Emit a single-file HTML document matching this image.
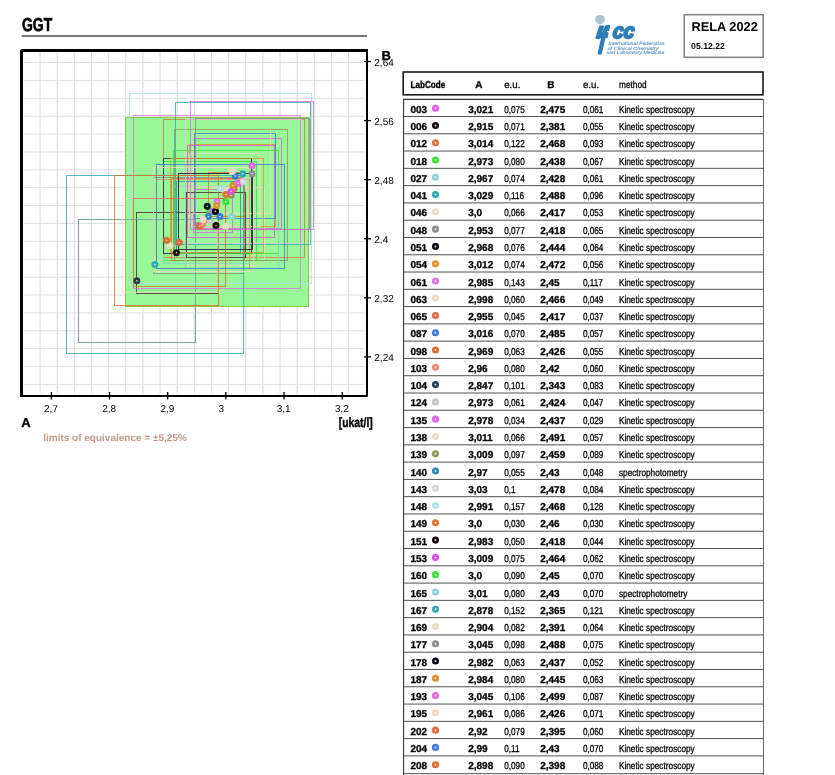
<!DOCTYPE html><html><head><meta charset="utf-8"><title>GGT RELA 2022</title><style>html,body{margin:0;padding:0;background:#fff;width:835px;height:775px;overflow:hidden}svg{display:block;will-change:transform}text{font-family:'Liberation Sans', Arial, Helvetica, sans-serif;text-rendering:geometricPrecision}.tb{font-weight:bold;stroke:#000;stroke-width:.3px}.tn{stroke:#000;stroke-width:.3px}</style></head><body>
<svg width="835" height="775" viewBox="0 0 835 775">
<rect width="835" height="775" fill="#fff"/>
<text class="tb" style="stroke-width:.6px" x="22" y="31" font-size="18.8" textLength="30.2" lengthAdjust="spacingAndGlyphs" fill="#000">GGT</text>
<rect x="21.5" y="35" width="345.5" height="2" fill="#7a7a7a"/>
<defs><clipPath id="pc"><rect x="23" y="52" width="343" height="343"/></clipPath></defs>
<g clip-path="url(#pc)"><rect x="39.56" y="52" width="1" height="341.5" fill="#dadada"/><rect x="56.70" y="52" width="1" height="341.5" fill="#dadada"/><rect x="73.84" y="52" width="1" height="341.5" fill="#dadada"/><rect x="90.98" y="52" width="1" height="341.5" fill="#dadada"/><rect x="108.12" y="52" width="1" height="341.5" fill="#dadada"/><rect x="125.26" y="52" width="1" height="341.5" fill="#dadada"/><rect x="142.40" y="52" width="1" height="341.5" fill="#dadada"/><rect x="159.54" y="52" width="1" height="341.5" fill="#dadada"/><rect x="176.68" y="52" width="1" height="341.5" fill="#dadada"/><rect x="193.82" y="52" width="1" height="341.5" fill="#dadada"/><rect x="210.96" y="52" width="1" height="341.5" fill="#dadada"/><rect x="228.10" y="52" width="1" height="341.5" fill="#dadada"/><rect x="245.24" y="52" width="1" height="341.5" fill="#dadada"/><rect x="262.38" y="52" width="1" height="341.5" fill="#dadada"/><rect x="279.52" y="52" width="1" height="341.5" fill="#dadada"/><rect x="296.66" y="52" width="1" height="341.5" fill="#dadada"/><rect x="313.80" y="52" width="1" height="341.5" fill="#dadada"/><rect x="330.94" y="52" width="1" height="341.5" fill="#dadada"/><rect x="348.08" y="52" width="1" height="341.5" fill="#dadada"/><rect x="24" y="62.00" width="340.8" height="1" fill="#dedede"/><rect x="24" y="79.89" width="340.8" height="1" fill="#dedede"/><rect x="24" y="97.77" width="340.8" height="1" fill="#dedede"/><rect x="24" y="115.66" width="340.8" height="1" fill="#dedede"/><rect x="24" y="133.54" width="340.8" height="1" fill="#dedede"/><rect x="24" y="151.43" width="340.8" height="1" fill="#dedede"/><rect x="24" y="169.31" width="340.8" height="1" fill="#dedede"/><rect x="24" y="187.19" width="340.8" height="1" fill="#dedede"/><rect x="24" y="205.08" width="340.8" height="1" fill="#dedede"/><rect x="24" y="222.97" width="340.8" height="1" fill="#dedede"/><rect x="24" y="240.85" width="340.8" height="1" fill="#dedede"/><rect x="24" y="258.74" width="340.8" height="1" fill="#dedede"/><rect x="24" y="276.62" width="340.8" height="1" fill="#dedede"/><rect x="24" y="294.50" width="340.8" height="1" fill="#dedede"/><rect x="24" y="312.39" width="340.8" height="1" fill="#dedede"/><rect x="24" y="330.28" width="340.8" height="1" fill="#dedede"/><rect x="24" y="348.16" width="340.8" height="1" fill="#dedede"/><rect x="24" y="366.05" width="340.8" height="1" fill="#dedede"/><rect x="24" y="383.93" width="340.8" height="1" fill="#dedede"/><rect x="125" y="117" width="184" height="190" fill="#8dc63f"/><rect x="126" y="118" width="182" height="188" fill="#98f898"/><rect x="194.5" y="138.5" width="87" height="90" fill="none" stroke="#e05ce0" stroke-opacity="0.80" stroke-width="1"/><rect x="136.5" y="212.5" width="81" height="81" fill="none" stroke="#5a4a40" stroke-opacity="1.00" stroke-width="1"/><rect x="163.5" y="119.5" width="141" height="138" fill="none" stroke="#e07040" stroke-opacity="0.80" stroke-width="1"/><rect x="163.5" y="161.5" width="93" height="99" fill="none" stroke="#38e038" stroke-opacity="0.80" stroke-width="1"/><rect x="163.5" y="173.5" width="86" height="90" fill="none" stroke="#8cd2d2" stroke-opacity="0.80" stroke-width="1"/><rect x="175.5" y="102.5" width="135" height="142" fill="none" stroke="#30a8b0" stroke-opacity="0.80" stroke-width="1"/><rect x="187.5" y="187.5" width="77" height="78" fill="none" stroke="#e8dcc0" stroke-opacity="0.80" stroke-width="1"/><rect x="153.5" y="177.5" width="90" height="96" fill="none" stroke="#8a8a8a" stroke-opacity="0.80" stroke-width="1"/><rect x="163.5" y="158.5" width="88" height="95" fill="none" stroke="#3a4258" stroke-opacity="1.00" stroke-width="1"/><rect x="189.5" y="144.5" width="86" height="82" fill="none" stroke="#e0902a" stroke-opacity="0.80" stroke-width="1"/><rect x="133.5" y="115.5" width="167" height="173" fill="none" stroke="#e070e8" stroke-opacity="0.80" stroke-width="1"/><rect x="189.5" y="153.5" width="70" height="73" fill="none" stroke="#f5d5c5" stroke-opacity="0.80" stroke-width="1"/><rect x="173.5" y="198.5" width="52" height="55" fill="none" stroke="#e06840" stroke-opacity="0.80" stroke-width="1"/><rect x="194.5" y="133.5" width="81" height="85" fill="none" stroke="#3a7ad8" stroke-opacity="0.80" stroke-width="1"/><rect x="171.5" y="178.5" width="73" height="82" fill="none" stroke="#e06a28" stroke-opacity="0.80" stroke-width="1"/><rect x="156.5" y="179.5" width="93" height="89" fill="none" stroke="#ee8870" stroke-opacity="0.80" stroke-width="1"/><rect x="78.5" y="219.5" width="117" height="123" fill="none" stroke="#78aa94" stroke-opacity="1.00" stroke-width="1"/><rect x="174.5" y="186.5" width="71" height="69" fill="none" stroke="#c4c4c4" stroke-opacity="0.80" stroke-width="1"/><rect x="193.5" y="189.5" width="39" height="43" fill="none" stroke="#e060e8" stroke-opacity="0.80" stroke-width="1"/><rect x="193.5" y="129.5" width="77" height="84" fill="none" stroke="#e8dcc0" stroke-opacity="0.80" stroke-width="1"/><rect x="174.5" y="129.5" width="113" height="131" fill="none" stroke="#889955" stroke-opacity="0.80" stroke-width="1"/><rect x="176.5" y="181.5" width="64" height="71" fill="none" stroke="#2a88b8" stroke-opacity="0.80" stroke-width="1"/><rect x="185.5" y="119.5" width="116" height="124" fill="none" stroke="#ddd0dd" stroke-opacity="0.80" stroke-width="1"/><rect x="129.5" y="93.5" width="182" height="190" fill="none" stroke="#b0e0e8" stroke-opacity="0.80" stroke-width="1"/><rect x="208.5" y="172.5" width="35" height="44" fill="none" stroke="#e07030" stroke-opacity="0.80" stroke-width="1"/><rect x="186.5" y="192.5" width="59" height="65" fill="none" stroke="#5a4c40" stroke-opacity="1.00" stroke-width="1"/><rect x="187.5" y="145.5" width="87" height="92" fill="none" stroke="#d850e0" stroke-opacity="0.80" stroke-width="1"/><rect x="173.5" y="150.5" width="105" height="103" fill="none" stroke="#38e038" stroke-opacity="0.80" stroke-width="1"/><rect x="185.5" y="164.5" width="93" height="104" fill="none" stroke="#8cd2d2" stroke-opacity="0.80" stroke-width="1"/><rect x="66.5" y="175.5" width="177" height="178" fill="none" stroke="#30a8b0" stroke-opacity="0.80" stroke-width="1"/><rect x="122.5" y="198.5" width="95" height="94" fill="none" stroke="#e8dcc0" stroke-opacity="0.80" stroke-width="1"/><rect x="195.5" y="118.5" width="114" height="111" fill="none" stroke="#8a8a8a" stroke-opacity="0.80" stroke-width="1"/><rect x="178.5" y="173.5" width="74" height="76" fill="none" stroke="#303444" stroke-opacity="1.00" stroke-width="1"/><rect x="170.5" y="158.5" width="93" height="94" fill="none" stroke="#e0902a" stroke-opacity="0.80" stroke-width="1"/><rect x="190.5" y="101.5" width="123" height="128" fill="none" stroke="#e066e0" stroke-opacity="0.80" stroke-width="1"/><rect x="153.5" y="167.5" width="100" height="104" fill="none" stroke="#f5d5c5" stroke-opacity="0.80" stroke-width="1"/><rect x="133.5" y="198.5" width="92" height="88" fill="none" stroke="#e06840" stroke-opacity="0.80" stroke-width="1"/><rect x="156.5" y="164.5" width="128" height="104" fill="none" stroke="#3a7ad8" stroke-opacity="0.80" stroke-width="1"/><rect x="114.5" y="175.5" width="104" height="130" fill="none" stroke="#e06a28" stroke-opacity="0.80" stroke-width="1"/><circle cx="238.08" cy="183.35" r="3.5" fill="#e05ce0"/><circle cx="238.08" cy="183.35" r="0.8" fill="#fff" fill-opacity="0.85"/><circle cx="176.42" cy="252.77" r="3.5" fill="#1a0c0c"/><circle cx="176.42" cy="252.77" r="0.8" fill="#fff" fill-opacity="0.85"/><circle cx="234.00" cy="188.52" r="3.5" fill="#e07040"/><circle cx="234.00" cy="188.52" r="0.8" fill="#fff" fill-opacity="0.85"/><circle cx="210.15" cy="210.68" r="3.5" fill="#38e038"/><circle cx="210.15" cy="210.68" r="0.8" fill="#fff" fill-opacity="0.85"/><circle cx="206.66" cy="218.06" r="3.5" fill="#8cd2d2"/><circle cx="206.66" cy="218.06" r="0.8" fill="#fff" fill-opacity="0.85"/><circle cx="242.73" cy="173.75" r="3.5" fill="#30a8b0"/><circle cx="242.73" cy="173.75" r="0.8" fill="#fff" fill-opacity="0.85"/><circle cx="225.86" cy="226.19" r="3.5" fill="#e8dcc0"/><circle cx="225.86" cy="226.19" r="0.8" fill="#fff" fill-opacity="0.85"/><circle cx="198.52" cy="225.45" r="3.5" fill="#8a8a8a"/><circle cx="198.52" cy="225.45" r="0.8" fill="#fff" fill-opacity="0.85"/><circle cx="207.25" cy="206.25" r="3.5" fill="#0c0c18"/><circle cx="207.25" cy="206.25" r="0.8" fill="#fff" fill-opacity="0.85"/><circle cx="232.84" cy="185.57" r="3.5" fill="#e0902a"/><circle cx="232.84" cy="185.57" r="0.8" fill="#fff" fill-opacity="0.85"/><circle cx="217.13" cy="201.81" r="3.5" fill="#e070e8"/><circle cx="217.13" cy="201.81" r="0.8" fill="#fff" fill-opacity="0.85"/><circle cx="224.70" cy="190.00" r="3.5" fill="#f5d5c5"/><circle cx="224.70" cy="190.00" r="0.8" fill="#fff" fill-opacity="0.85"/><circle cx="199.68" cy="226.19" r="3.5" fill="#e06840"/><circle cx="199.68" cy="226.19" r="0.8" fill="#fff" fill-opacity="0.85"/><circle cx="235.17" cy="175.97" r="3.5" fill="#3a7ad8"/><circle cx="235.17" cy="175.97" r="0.8" fill="#fff" fill-opacity="0.85"/><circle cx="207.83" cy="219.54" r="3.5" fill="#e06a28"/><circle cx="207.83" cy="219.54" r="0.8" fill="#fff" fill-opacity="0.85"/><circle cx="202.59" cy="223.97" r="3.5" fill="#ee8870"/><circle cx="202.59" cy="223.97" r="0.8" fill="#fff" fill-opacity="0.85"/><circle cx="136.86" cy="280.83" r="3.5" fill="#2a3a48"/><circle cx="136.86" cy="280.83" r="0.8" fill="#fff" fill-opacity="0.85"/><circle cx="210.15" cy="221.02" r="3.5" fill="#c4c4c4"/><circle cx="210.15" cy="221.02" r="0.8" fill="#fff" fill-opacity="0.85"/><circle cx="213.06" cy="211.42" r="3.5" fill="#e060e8"/><circle cx="213.06" cy="211.42" r="0.8" fill="#fff" fill-opacity="0.85"/><circle cx="232.26" cy="171.54" r="3.5" fill="#e8dcc0"/><circle cx="232.26" cy="171.54" r="0.8" fill="#fff" fill-opacity="0.85"/><circle cx="231.10" cy="195.17" r="3.5" fill="#889955"/><circle cx="231.10" cy="195.17" r="0.8" fill="#fff" fill-opacity="0.85"/><circle cx="208.41" cy="216.58" r="3.5" fill="#2a88b8"/><circle cx="208.41" cy="216.58" r="0.8" fill="#fff" fill-opacity="0.85"/><circle cx="243.31" cy="181.14" r="3.5" fill="#ddd0dd"/><circle cx="243.31" cy="181.14" r="0.8" fill="#fff" fill-opacity="0.85"/><circle cx="220.62" cy="188.52" r="3.5" fill="#b0e0e8"/><circle cx="220.62" cy="188.52" r="0.8" fill="#fff" fill-opacity="0.85"/><circle cx="225.86" cy="194.43" r="3.5" fill="#e07030"/><circle cx="225.86" cy="194.43" r="0.8" fill="#fff" fill-opacity="0.85"/><circle cx="215.97" cy="225.45" r="3.5" fill="#140808"/><circle cx="215.97" cy="225.45" r="0.8" fill="#fff" fill-opacity="0.85"/><circle cx="231.10" cy="191.48" r="3.5" fill="#d850e0"/><circle cx="231.10" cy="191.48" r="0.8" fill="#fff" fill-opacity="0.85"/><circle cx="225.86" cy="201.81" r="3.5" fill="#38e038"/><circle cx="225.86" cy="201.81" r="0.8" fill="#fff" fill-opacity="0.85"/><circle cx="231.68" cy="216.58" r="3.5" fill="#8cd2d2"/><circle cx="231.68" cy="216.58" r="0.8" fill="#fff" fill-opacity="0.85"/><circle cx="154.89" cy="264.59" r="3.5" fill="#30a8b0"/><circle cx="154.89" cy="264.59" r="0.8" fill="#fff" fill-opacity="0.85"/><circle cx="170.02" cy="245.39" r="3.5" fill="#e8dcc0"/><circle cx="170.02" cy="245.39" r="0.8" fill="#fff" fill-opacity="0.85"/><circle cx="252.04" cy="173.75" r="3.5" fill="#8a8a8a"/><circle cx="252.04" cy="173.75" r="0.8" fill="#fff" fill-opacity="0.85"/><circle cx="215.39" cy="211.42" r="3.5" fill="#00000c"/><circle cx="215.39" cy="211.42" r="0.8" fill="#fff" fill-opacity="0.85"/><circle cx="216.55" cy="205.51" r="3.5" fill="#e0902a"/><circle cx="216.55" cy="205.51" r="0.8" fill="#fff" fill-opacity="0.85"/><circle cx="252.04" cy="165.63" r="3.5" fill="#e066e0"/><circle cx="252.04" cy="165.63" r="0.8" fill="#fff" fill-opacity="0.85"/><circle cx="203.17" cy="219.54" r="3.5" fill="#f5d5c5"/><circle cx="203.17" cy="219.54" r="0.8" fill="#fff" fill-opacity="0.85"/><circle cx="179.32" cy="242.43" r="3.5" fill="#e06840"/><circle cx="179.32" cy="242.43" r="0.8" fill="#fff" fill-opacity="0.85"/><circle cx="220.04" cy="216.58" r="3.5" fill="#3a7ad8"/><circle cx="220.04" cy="216.58" r="0.8" fill="#fff" fill-opacity="0.85"/><circle cx="166.53" cy="240.22" r="3.5" fill="#e06a28"/><circle cx="166.53" cy="240.22" r="0.8" fill="#fff" fill-opacity="0.85"/></g>
<path d="M20 397 V51.2 Q20 49 22.2 49 H368 V52 H23 V397 Z" fill="#000"/>
<path d="M366 52 H368 V395.8 Q368 397 366.8 397 H20 V395 H366 Z" fill="#000"/>
<line x1="51.35" y1="392" x2="51.35" y2="399.5" stroke="#000" stroke-width="1.3"/>
<text x="44.05" y="412" font-size="10" fill="#000">2,7</text>
<line x1="109.52" y1="392" x2="109.52" y2="399.5" stroke="#000" stroke-width="1.3"/>
<text x="102.22" y="412" font-size="10" fill="#000">2,8</text>
<line x1="167.69" y1="392" x2="167.69" y2="399.5" stroke="#000" stroke-width="1.3"/>
<text x="160.39" y="412" font-size="10" fill="#000">2,9</text>
<line x1="225.86" y1="392" x2="225.86" y2="399.5" stroke="#000" stroke-width="1.3"/>
<text x="218.56" y="412" font-size="10" fill="#000">3</text>
<line x1="284.03" y1="392" x2="284.03" y2="399.5" stroke="#000" stroke-width="1.3"/>
<text x="276.73" y="412" font-size="10" fill="#000">3,1</text>
<line x1="342.20" y1="392" x2="342.20" y2="399.5" stroke="#000" stroke-width="1.3"/>
<text x="334.90" y="412" font-size="10" fill="#000">3,2</text>
<line x1="364" y1="61.50" x2="371" y2="61.50" stroke="#000" stroke-width="1.3"/>
<text x="374.3" y="65.50" font-size="10" fill="#000">2,64</text>
<line x1="364" y1="120.58" x2="371" y2="120.58" stroke="#000" stroke-width="1.3"/>
<text x="374.3" y="124.58" font-size="10" fill="#000">2,56</text>
<line x1="364" y1="179.66" x2="371" y2="179.66" stroke="#000" stroke-width="1.3"/>
<text x="374.3" y="183.66" font-size="10" fill="#000">2,48</text>
<line x1="364" y1="238.74" x2="371" y2="238.74" stroke="#000" stroke-width="1.3"/>
<text x="374.3" y="242.74" font-size="10" fill="#000">2,4</text>
<line x1="364" y1="297.82" x2="371" y2="297.82" stroke="#000" stroke-width="1.3"/>
<text x="374.3" y="301.82" font-size="10" fill="#000">2,32</text>
<line x1="364" y1="356.90" x2="371" y2="356.90" stroke="#000" stroke-width="1.3"/>
<text x="374.3" y="360.90" font-size="10" fill="#000">2,24</text>
<text class="tb" style="stroke-width:.35px" x="381.6" y="60.4" font-size="13">B</text>
<text class="tb" style="stroke-width:.35px" x="21.2" y="427.1" font-size="13">A</text>
<text class="tb" style="stroke-width:.4px" x="338.8" y="426.8" font-size="13.5" textLength="34" lengthAdjust="spacingAndGlyphs" fill="#000">[ukat/l]</text>
<text x="43.2" y="440.7" font-size="10" font-weight="bold" fill="#c39a8b">limits of equivalence = ±5,25%</text>
<circle cx="600" cy="19.7" r="4.8" fill="#a9c3d3"/>
<g font-weight="bold" font-style="italic" fill="#2f7db6" stroke="#2f7db6" stroke-linejoin="round" transform="translate(612 40) skewX(-7) translate(-612 -40)"><text x="595.8" y="37.7" font-size="22" stroke-width="2">ı</text><text transform="translate(0,-45.56) scale(1,1.85)" font-size="20" stroke-width="1.6" x="599.4" y="53.1">f</text><text font-size="21" stroke-width="2" x="612" y="38.3" textLength="21.5" lengthAdjust="spacingAndGlyphs">cc</text></g>
<g font-style="italic" fill="#5b8fc4" stroke="#5b8fc4" stroke-width="0.12" font-size="4.6"><text x="608.5" y="45.2" textLength="56" lengthAdjust="spacingAndGlyphs">International Federation</text><text x="607.5" y="49.5" textLength="51" lengthAdjust="spacingAndGlyphs">of Clinical Chemistry</text><text x="606.5" y="53.8" textLength="58" lengthAdjust="spacingAndGlyphs">and Laboratory Medicine</text></g>
<rect x="684.3" y="14.7" width="78.9" height="42.6" fill="none" stroke="#808080" stroke-width="1.5"/>
<text x="691.4" y="31" font-size="12.8" font-weight="bold" fill="#000">RELA 2022</text>
<text x="691.1" y="49" font-size="8.7" font-weight="bold" fill="#000">05.12.22</text>
<rect x="403.2" y="72" width="359.8" height="22.8" fill="none" stroke="#1a1a1a" stroke-width="1.6"/>
<text class="tb" x="410.6" y="87.9" font-size="10" style="stroke-width:.35px" textLength="34.6" lengthAdjust="spacingAndGlyphs">LabCode</text>
<text class="tb" x="475.2" y="88" font-size="10">A</text>
<text class="tn" x="504.2" y="87.9" font-size="10" textLength="16.2" lengthAdjust="spacingAndGlyphs">e.u.</text>
<text class="tb" x="547.2" y="88" font-size="10">B</text>
<text class="tn" x="582.9" y="87.9" font-size="10" textLength="16.2" lengthAdjust="spacingAndGlyphs">e.u.</text>
<text class="tn" x="619.1" y="87.9" font-size="10" textLength="27.5" lengthAdjust="spacingAndGlyphs">method</text>
<line x1="403.1" y1="99.45" x2="763.6" y2="99.45" stroke="#333" stroke-width="1.2"/>
<line x1="403.6" y1="99.50" x2="403.6" y2="775" stroke="#333" stroke-width="1.1"/>
<line x1="763.5" y1="99" x2="763.5" y2="775" stroke="#6a6a6a" stroke-width="1"/>
<text class="tb" x="410.5" y="112.80" font-size="10">003</text>
<circle cx="435.5" cy="108.20" r="3.55" fill="#e05ce0"/><circle cx="435.5" cy="108.20" r="1.0" fill="#fff" fill-opacity="0.85"/>
<text class="tb" x="468.2" y="112.80" font-size="10">3,021</text>
<text class="tn" x="504.2" y="112.80" font-size="10" transform="translate(504.2 0) scale(0.820 1) translate(-504.2 0)">0,075</text>
<text class="tb" x="540.2" y="112.80" font-size="10">2,475</text>
<text class="tn" x="582.9" y="112.80" font-size="10" transform="translate(582.9 0) scale(0.820 1) translate(-582.9 0)">0,061</text>
<text class="tn" x="618.9" y="112.80" font-size="10" transform="translate(618.9 0) scale(0.827 1) translate(-618.9 0)">Kinetic spectroscopy</text>
<line x1="403.5" y1="116.50" x2="763.5" y2="116.50" stroke="#505050" stroke-width="1"/>
<text class="tb" x="410.5" y="130.08" font-size="10">006</text>
<circle cx="435.5" cy="125.48" r="3.55" fill="#1a0c0c"/><circle cx="435.5" cy="125.48" r="1.0" fill="#fff" fill-opacity="0.85"/>
<text class="tb" x="468.2" y="130.08" font-size="10">2,915</text>
<text class="tn" x="504.2" y="130.08" font-size="10" transform="translate(504.2 0) scale(0.820 1) translate(-504.2 0)">0,071</text>
<text class="tb" x="540.2" y="130.08" font-size="10">2,381</text>
<text class="tn" x="582.9" y="130.08" font-size="10" transform="translate(582.9 0) scale(0.820 1) translate(-582.9 0)">0,055</text>
<text class="tn" x="618.9" y="130.08" font-size="10" transform="translate(618.9 0) scale(0.827 1) translate(-618.9 0)">Kinetic spectroscopy</text>
<line x1="403.5" y1="133.78" x2="763.5" y2="133.78" stroke="#505050" stroke-width="1"/>
<text class="tb" x="410.5" y="147.35" font-size="10">012</text>
<circle cx="435.5" cy="142.75" r="3.55" fill="#e07040"/><circle cx="435.5" cy="142.75" r="1.0" fill="#fff" fill-opacity="0.85"/>
<text class="tb" x="468.2" y="147.35" font-size="10">3,014</text>
<text class="tn" x="504.2" y="147.35" font-size="10" transform="translate(504.2 0) scale(0.820 1) translate(-504.2 0)">0,122</text>
<text class="tb" x="540.2" y="147.35" font-size="10">2,468</text>
<text class="tn" x="582.9" y="147.35" font-size="10" transform="translate(582.9 0) scale(0.820 1) translate(-582.9 0)">0,093</text>
<text class="tn" x="618.9" y="147.35" font-size="10" transform="translate(618.9 0) scale(0.827 1) translate(-618.9 0)">Kinetic spectroscopy</text>
<line x1="403.5" y1="151.06" x2="763.5" y2="151.06" stroke="#505050" stroke-width="1"/>
<text class="tb" x="410.5" y="164.63" font-size="10">018</text>
<circle cx="435.5" cy="160.03" r="3.55" fill="#38e038"/><circle cx="435.5" cy="160.03" r="1.0" fill="#fff" fill-opacity="0.85"/>
<text class="tb" x="468.2" y="164.63" font-size="10">2,973</text>
<text class="tn" x="504.2" y="164.63" font-size="10" transform="translate(504.2 0) scale(0.820 1) translate(-504.2 0)">0,080</text>
<text class="tb" x="540.2" y="164.63" font-size="10">2,438</text>
<text class="tn" x="582.9" y="164.63" font-size="10" transform="translate(582.9 0) scale(0.820 1) translate(-582.9 0)">0,067</text>
<text class="tn" x="618.9" y="164.63" font-size="10" transform="translate(618.9 0) scale(0.827 1) translate(-618.9 0)">Kinetic spectroscopy</text>
<line x1="403.5" y1="168.34" x2="763.5" y2="168.34" stroke="#505050" stroke-width="1"/>
<text class="tb" x="410.5" y="181.90" font-size="10">027</text>
<circle cx="435.5" cy="177.30" r="3.55" fill="#8cd2d2"/><circle cx="435.5" cy="177.30" r="1.0" fill="#fff" fill-opacity="0.85"/>
<text class="tb" x="468.2" y="181.90" font-size="10">2,967</text>
<text class="tn" x="504.2" y="181.90" font-size="10" transform="translate(504.2 0) scale(0.820 1) translate(-504.2 0)">0,074</text>
<text class="tb" x="540.2" y="181.90" font-size="10">2,428</text>
<text class="tn" x="582.9" y="181.90" font-size="10" transform="translate(582.9 0) scale(0.820 1) translate(-582.9 0)">0,061</text>
<text class="tn" x="618.9" y="181.90" font-size="10" transform="translate(618.9 0) scale(0.827 1) translate(-618.9 0)">Kinetic spectroscopy</text>
<line x1="403.5" y1="185.62" x2="763.5" y2="185.62" stroke="#505050" stroke-width="1"/>
<text class="tb" x="410.5" y="199.18" font-size="10">041</text>
<circle cx="435.5" cy="194.58" r="3.55" fill="#30a8b0"/><circle cx="435.5" cy="194.58" r="1.0" fill="#fff" fill-opacity="0.85"/>
<text class="tb" x="468.2" y="199.18" font-size="10">3,029</text>
<text class="tn" x="504.2" y="199.18" font-size="10" transform="translate(504.2 0) scale(0.820 1) translate(-504.2 0)">0,116</text>
<text class="tb" x="540.2" y="199.18" font-size="10">2,488</text>
<text class="tn" x="582.9" y="199.18" font-size="10" transform="translate(582.9 0) scale(0.820 1) translate(-582.9 0)">0,096</text>
<text class="tn" x="618.9" y="199.18" font-size="10" transform="translate(618.9 0) scale(0.827 1) translate(-618.9 0)">Kinetic spectroscopy</text>
<line x1="403.5" y1="202.91" x2="763.5" y2="202.91" stroke="#505050" stroke-width="1"/>
<text class="tb" x="410.5" y="216.46" font-size="10">046</text>
<circle cx="435.5" cy="211.86" r="3.55" fill="#e8dcc0"/><circle cx="435.5" cy="211.86" r="1.0" fill="#fff" fill-opacity="0.85"/>
<text class="tb" x="468.2" y="216.46" font-size="10">3,0</text>
<text class="tn" x="504.2" y="216.46" font-size="10" transform="translate(504.2 0) scale(0.820 1) translate(-504.2 0)">0,066</text>
<text class="tb" x="540.2" y="216.46" font-size="10">2,417</text>
<text class="tn" x="582.9" y="216.46" font-size="10" transform="translate(582.9 0) scale(0.820 1) translate(-582.9 0)">0,053</text>
<text class="tn" x="618.9" y="216.46" font-size="10" transform="translate(618.9 0) scale(0.827 1) translate(-618.9 0)">Kinetic spectroscopy</text>
<line x1="403.5" y1="220.19" x2="763.5" y2="220.19" stroke="#505050" stroke-width="1"/>
<text class="tb" x="410.5" y="233.73" font-size="10">048</text>
<circle cx="435.5" cy="229.13" r="3.55" fill="#8a8a8a"/><circle cx="435.5" cy="229.13" r="1.0" fill="#fff" fill-opacity="0.85"/>
<text class="tb" x="468.2" y="233.73" font-size="10">2,953</text>
<text class="tn" x="504.2" y="233.73" font-size="10" transform="translate(504.2 0) scale(0.820 1) translate(-504.2 0)">0,077</text>
<text class="tb" x="540.2" y="233.73" font-size="10">2,418</text>
<text class="tn" x="582.9" y="233.73" font-size="10" transform="translate(582.9 0) scale(0.820 1) translate(-582.9 0)">0,065</text>
<text class="tn" x="618.9" y="233.73" font-size="10" transform="translate(618.9 0) scale(0.827 1) translate(-618.9 0)">Kinetic spectroscopy</text>
<line x1="403.5" y1="237.47" x2="763.5" y2="237.47" stroke="#505050" stroke-width="1"/>
<text class="tb" x="410.5" y="251.01" font-size="10">051</text>
<circle cx="435.5" cy="246.41" r="3.55" fill="#0c0c18"/><circle cx="435.5" cy="246.41" r="1.0" fill="#fff" fill-opacity="0.85"/>
<text class="tb" x="468.2" y="251.01" font-size="10">2,968</text>
<text class="tn" x="504.2" y="251.01" font-size="10" transform="translate(504.2 0) scale(0.820 1) translate(-504.2 0)">0,076</text>
<text class="tb" x="540.2" y="251.01" font-size="10">2,444</text>
<text class="tn" x="582.9" y="251.01" font-size="10" transform="translate(582.9 0) scale(0.820 1) translate(-582.9 0)">0,064</text>
<text class="tn" x="618.9" y="251.01" font-size="10" transform="translate(618.9 0) scale(0.827 1) translate(-618.9 0)">Kinetic spectroscopy</text>
<line x1="403.5" y1="254.75" x2="763.5" y2="254.75" stroke="#505050" stroke-width="1"/>
<text class="tb" x="410.5" y="268.28" font-size="10">054</text>
<circle cx="435.5" cy="263.68" r="3.55" fill="#e0902a"/><circle cx="435.5" cy="263.68" r="1.0" fill="#fff" fill-opacity="0.85"/>
<text class="tb" x="468.2" y="268.28" font-size="10">3,012</text>
<text class="tn" x="504.2" y="268.28" font-size="10" transform="translate(504.2 0) scale(0.820 1) translate(-504.2 0)">0,074</text>
<text class="tb" x="540.2" y="268.28" font-size="10">2,472</text>
<text class="tn" x="582.9" y="268.28" font-size="10" transform="translate(582.9 0) scale(0.820 1) translate(-582.9 0)">0,056</text>
<text class="tn" x="618.9" y="268.28" font-size="10" transform="translate(618.9 0) scale(0.827 1) translate(-618.9 0)">Kinetic spectroscopy</text>
<line x1="403.5" y1="272.03" x2="763.5" y2="272.03" stroke="#505050" stroke-width="1"/>
<text class="tb" x="410.5" y="285.56" font-size="10">061</text>
<circle cx="435.5" cy="280.96" r="3.55" fill="#e070e8"/><circle cx="435.5" cy="280.96" r="1.0" fill="#fff" fill-opacity="0.85"/>
<text class="tb" x="468.2" y="285.56" font-size="10">2,985</text>
<text class="tn" x="504.2" y="285.56" font-size="10" transform="translate(504.2 0) scale(0.820 1) translate(-504.2 0)">0,143</text>
<text class="tb" x="540.2" y="285.56" font-size="10">2,45</text>
<text class="tn" x="582.9" y="285.56" font-size="10" transform="translate(582.9 0) scale(0.820 1) translate(-582.9 0)">0,117</text>
<text class="tn" x="618.9" y="285.56" font-size="10" transform="translate(618.9 0) scale(0.827 1) translate(-618.9 0)">Kinetic spectroscopy</text>
<line x1="403.5" y1="289.31" x2="763.5" y2="289.31" stroke="#505050" stroke-width="1"/>
<text class="tb" x="410.5" y="302.84" font-size="10">063</text>
<circle cx="435.5" cy="298.24" r="3.55" fill="#f5d5c5"/><circle cx="435.5" cy="298.24" r="1.0" fill="#fff" fill-opacity="0.85"/>
<text class="tb" x="468.2" y="302.84" font-size="10">2,998</text>
<text class="tn" x="504.2" y="302.84" font-size="10" transform="translate(504.2 0) scale(0.820 1) translate(-504.2 0)">0,060</text>
<text class="tb" x="540.2" y="302.84" font-size="10">2,466</text>
<text class="tn" x="582.9" y="302.84" font-size="10" transform="translate(582.9 0) scale(0.820 1) translate(-582.9 0)">0,049</text>
<text class="tn" x="618.9" y="302.84" font-size="10" transform="translate(618.9 0) scale(0.827 1) translate(-618.9 0)">Kinetic spectroscopy</text>
<line x1="403.5" y1="306.59" x2="763.5" y2="306.59" stroke="#505050" stroke-width="1"/>
<text class="tb" x="410.5" y="320.11" font-size="10">065</text>
<circle cx="435.5" cy="315.51" r="3.55" fill="#e06840"/><circle cx="435.5" cy="315.51" r="1.0" fill="#fff" fill-opacity="0.85"/>
<text class="tb" x="468.2" y="320.11" font-size="10">2,955</text>
<text class="tn" x="504.2" y="320.11" font-size="10" transform="translate(504.2 0) scale(0.820 1) translate(-504.2 0)">0,045</text>
<text class="tb" x="540.2" y="320.11" font-size="10">2,417</text>
<text class="tn" x="582.9" y="320.11" font-size="10" transform="translate(582.9 0) scale(0.820 1) translate(-582.9 0)">0,037</text>
<text class="tn" x="618.9" y="320.11" font-size="10" transform="translate(618.9 0) scale(0.827 1) translate(-618.9 0)">Kinetic spectroscopy</text>
<line x1="403.5" y1="323.87" x2="763.5" y2="323.87" stroke="#505050" stroke-width="1"/>
<text class="tb" x="410.5" y="337.39" font-size="10">087</text>
<circle cx="435.5" cy="332.79" r="3.55" fill="#3a7ad8"/><circle cx="435.5" cy="332.79" r="1.0" fill="#fff" fill-opacity="0.85"/>
<text class="tb" x="468.2" y="337.39" font-size="10">3,016</text>
<text class="tn" x="504.2" y="337.39" font-size="10" transform="translate(504.2 0) scale(0.820 1) translate(-504.2 0)">0,070</text>
<text class="tb" x="540.2" y="337.39" font-size="10">2,485</text>
<text class="tn" x="582.9" y="337.39" font-size="10" transform="translate(582.9 0) scale(0.820 1) translate(-582.9 0)">0,057</text>
<text class="tn" x="618.9" y="337.39" font-size="10" transform="translate(618.9 0) scale(0.827 1) translate(-618.9 0)">Kinetic spectroscopy</text>
<line x1="403.5" y1="341.15" x2="763.5" y2="341.15" stroke="#505050" stroke-width="1"/>
<text class="tb" x="410.5" y="354.66" font-size="10">098</text>
<circle cx="435.5" cy="350.06" r="3.55" fill="#e06a28"/><circle cx="435.5" cy="350.06" r="1.0" fill="#fff" fill-opacity="0.85"/>
<text class="tb" x="468.2" y="354.66" font-size="10">2,969</text>
<text class="tn" x="504.2" y="354.66" font-size="10" transform="translate(504.2 0) scale(0.820 1) translate(-504.2 0)">0,063</text>
<text class="tb" x="540.2" y="354.66" font-size="10">2,426</text>
<text class="tn" x="582.9" y="354.66" font-size="10" transform="translate(582.9 0) scale(0.820 1) translate(-582.9 0)">0,055</text>
<text class="tn" x="618.9" y="354.66" font-size="10" transform="translate(618.9 0) scale(0.827 1) translate(-618.9 0)">Kinetic spectroscopy</text>
<line x1="403.5" y1="358.43" x2="763.5" y2="358.43" stroke="#505050" stroke-width="1"/>
<text class="tb" x="410.5" y="371.94" font-size="10">103</text>
<circle cx="435.5" cy="367.34" r="3.55" fill="#ee8870"/><circle cx="435.5" cy="367.34" r="1.0" fill="#fff" fill-opacity="0.85"/>
<text class="tb" x="468.2" y="371.94" font-size="10">2,96</text>
<text class="tn" x="504.2" y="371.94" font-size="10" transform="translate(504.2 0) scale(0.820 1) translate(-504.2 0)">0,080</text>
<text class="tb" x="540.2" y="371.94" font-size="10">2,42</text>
<text class="tn" x="582.9" y="371.94" font-size="10" transform="translate(582.9 0) scale(0.820 1) translate(-582.9 0)">0,060</text>
<text class="tn" x="618.9" y="371.94" font-size="10" transform="translate(618.9 0) scale(0.827 1) translate(-618.9 0)">Kinetic spectroscopy</text>
<line x1="403.5" y1="375.72" x2="763.5" y2="375.72" stroke="#505050" stroke-width="1"/>
<text class="tb" x="410.5" y="389.22" font-size="10">104</text>
<circle cx="435.5" cy="384.62" r="3.55" fill="#2a3a48"/><circle cx="435.5" cy="384.62" r="1.0" fill="#fff" fill-opacity="0.85"/>
<text class="tb" x="468.2" y="389.22" font-size="10">2,847</text>
<text class="tn" x="504.2" y="389.22" font-size="10" transform="translate(504.2 0) scale(0.820 1) translate(-504.2 0)">0,101</text>
<text class="tb" x="540.2" y="389.22" font-size="10">2,343</text>
<text class="tn" x="582.9" y="389.22" font-size="10" transform="translate(582.9 0) scale(0.820 1) translate(-582.9 0)">0,083</text>
<text class="tn" x="618.9" y="389.22" font-size="10" transform="translate(618.9 0) scale(0.827 1) translate(-618.9 0)">Kinetic spectroscopy</text>
<line x1="403.5" y1="393.00" x2="763.5" y2="393.00" stroke="#505050" stroke-width="1"/>
<text class="tb" x="410.5" y="406.49" font-size="10">124</text>
<circle cx="435.5" cy="401.89" r="3.55" fill="#c4c4c4"/><circle cx="435.5" cy="401.89" r="1.0" fill="#fff" fill-opacity="0.85"/>
<text class="tb" x="468.2" y="406.49" font-size="10">2,973</text>
<text class="tn" x="504.2" y="406.49" font-size="10" transform="translate(504.2 0) scale(0.820 1) translate(-504.2 0)">0,061</text>
<text class="tb" x="540.2" y="406.49" font-size="10">2,424</text>
<text class="tn" x="582.9" y="406.49" font-size="10" transform="translate(582.9 0) scale(0.820 1) translate(-582.9 0)">0,047</text>
<text class="tn" x="618.9" y="406.49" font-size="10" transform="translate(618.9 0) scale(0.827 1) translate(-618.9 0)">Kinetic spectroscopy</text>
<line x1="403.5" y1="410.28" x2="763.5" y2="410.28" stroke="#505050" stroke-width="1"/>
<text class="tb" x="410.5" y="423.77" font-size="10">135</text>
<circle cx="435.5" cy="419.17" r="3.55" fill="#e060e8"/><circle cx="435.5" cy="419.17" r="1.0" fill="#fff" fill-opacity="0.85"/>
<text class="tb" x="468.2" y="423.77" font-size="10">2,978</text>
<text class="tn" x="504.2" y="423.77" font-size="10" transform="translate(504.2 0) scale(0.820 1) translate(-504.2 0)">0,034</text>
<text class="tb" x="540.2" y="423.77" font-size="10">2,437</text>
<text class="tn" x="582.9" y="423.77" font-size="10" transform="translate(582.9 0) scale(0.820 1) translate(-582.9 0)">0,029</text>
<text class="tn" x="618.9" y="423.77" font-size="10" transform="translate(618.9 0) scale(0.827 1) translate(-618.9 0)">Kinetic spectroscopy</text>
<line x1="403.5" y1="427.56" x2="763.5" y2="427.56" stroke="#505050" stroke-width="1"/>
<text class="tb" x="410.5" y="441.04" font-size="10">138</text>
<circle cx="435.5" cy="436.44" r="3.55" fill="#e8dcc0"/><circle cx="435.5" cy="436.44" r="1.0" fill="#fff" fill-opacity="0.85"/>
<text class="tb" x="468.2" y="441.04" font-size="10">3,011</text>
<text class="tn" x="504.2" y="441.04" font-size="10" transform="translate(504.2 0) scale(0.820 1) translate(-504.2 0)">0,066</text>
<text class="tb" x="540.2" y="441.04" font-size="10">2,491</text>
<text class="tn" x="582.9" y="441.04" font-size="10" transform="translate(582.9 0) scale(0.820 1) translate(-582.9 0)">0,057</text>
<text class="tn" x="618.9" y="441.04" font-size="10" transform="translate(618.9 0) scale(0.827 1) translate(-618.9 0)">Kinetic spectroscopy</text>
<line x1="403.5" y1="444.84" x2="763.5" y2="444.84" stroke="#505050" stroke-width="1"/>
<text class="tb" x="410.5" y="458.32" font-size="10">139</text>
<circle cx="435.5" cy="453.72" r="3.55" fill="#889955"/><circle cx="435.5" cy="453.72" r="1.0" fill="#fff" fill-opacity="0.85"/>
<text class="tb" x="468.2" y="458.32" font-size="10">3,009</text>
<text class="tn" x="504.2" y="458.32" font-size="10" transform="translate(504.2 0) scale(0.820 1) translate(-504.2 0)">0,097</text>
<text class="tb" x="540.2" y="458.32" font-size="10">2,459</text>
<text class="tn" x="582.9" y="458.32" font-size="10" transform="translate(582.9 0) scale(0.820 1) translate(-582.9 0)">0,089</text>
<text class="tn" x="618.9" y="458.32" font-size="10" transform="translate(618.9 0) scale(0.827 1) translate(-618.9 0)">Kinetic spectroscopy</text>
<line x1="403.5" y1="462.12" x2="763.5" y2="462.12" stroke="#505050" stroke-width="1"/>
<text class="tb" x="410.5" y="475.60" font-size="10">140</text>
<circle cx="435.5" cy="471.00" r="3.55" fill="#2a88b8"/><circle cx="435.5" cy="471.00" r="1.0" fill="#fff" fill-opacity="0.85"/>
<text class="tb" x="468.2" y="475.60" font-size="10">2,97</text>
<text class="tn" x="504.2" y="475.60" font-size="10" transform="translate(504.2 0) scale(0.820 1) translate(-504.2 0)">0,055</text>
<text class="tb" x="540.2" y="475.60" font-size="10">2,43</text>
<text class="tn" x="582.9" y="475.60" font-size="10" transform="translate(582.9 0) scale(0.820 1) translate(-582.9 0)">0,048</text>
<text class="tn" x="618.9" y="475.60" font-size="10" transform="translate(618.9 0) scale(0.827 1) translate(-618.9 0)">spectrophotometry</text>
<line x1="403.5" y1="479.40" x2="763.5" y2="479.40" stroke="#505050" stroke-width="1"/>
<text class="tb" x="410.5" y="492.87" font-size="10">143</text>
<circle cx="435.5" cy="488.27" r="3.55" fill="#ddd0dd"/><circle cx="435.5" cy="488.27" r="1.0" fill="#fff" fill-opacity="0.85"/>
<text class="tb" x="468.2" y="492.87" font-size="10">3,03</text>
<text class="tn" x="504.2" y="492.87" font-size="10" transform="translate(504.2 0) scale(0.820 1) translate(-504.2 0)">0,1</text>
<text class="tb" x="540.2" y="492.87" font-size="10">2,478</text>
<text class="tn" x="582.9" y="492.87" font-size="10" transform="translate(582.9 0) scale(0.820 1) translate(-582.9 0)">0,084</text>
<text class="tn" x="618.9" y="492.87" font-size="10" transform="translate(618.9 0) scale(0.827 1) translate(-618.9 0)">Kinetic spectroscopy</text>
<line x1="403.5" y1="496.68" x2="763.5" y2="496.68" stroke="#505050" stroke-width="1"/>
<text class="tb" x="410.5" y="510.15" font-size="10">148</text>
<circle cx="435.5" cy="505.55" r="3.55" fill="#b0e0e8"/><circle cx="435.5" cy="505.55" r="1.0" fill="#fff" fill-opacity="0.85"/>
<text class="tb" x="468.2" y="510.15" font-size="10">2,991</text>
<text class="tn" x="504.2" y="510.15" font-size="10" transform="translate(504.2 0) scale(0.820 1) translate(-504.2 0)">0,157</text>
<text class="tb" x="540.2" y="510.15" font-size="10">2,468</text>
<text class="tn" x="582.9" y="510.15" font-size="10" transform="translate(582.9 0) scale(0.820 1) translate(-582.9 0)">0,128</text>
<text class="tn" x="618.9" y="510.15" font-size="10" transform="translate(618.9 0) scale(0.827 1) translate(-618.9 0)">Kinetic spectroscopy</text>
<line x1="403.5" y1="513.96" x2="763.5" y2="513.96" stroke="#505050" stroke-width="1"/>
<text class="tb" x="410.5" y="527.42" font-size="10">149</text>
<circle cx="435.5" cy="522.82" r="3.55" fill="#e07030"/><circle cx="435.5" cy="522.82" r="1.0" fill="#fff" fill-opacity="0.85"/>
<text class="tb" x="468.2" y="527.42" font-size="10">3,0</text>
<text class="tn" x="504.2" y="527.42" font-size="10" transform="translate(504.2 0) scale(0.820 1) translate(-504.2 0)">0,030</text>
<text class="tb" x="540.2" y="527.42" font-size="10">2,46</text>
<text class="tn" x="582.9" y="527.42" font-size="10" transform="translate(582.9 0) scale(0.820 1) translate(-582.9 0)">0,030</text>
<text class="tn" x="618.9" y="527.42" font-size="10" transform="translate(618.9 0) scale(0.827 1) translate(-618.9 0)">Kinetic spectroscopy</text>
<line x1="403.5" y1="531.25" x2="763.5" y2="531.25" stroke="#505050" stroke-width="1"/>
<text class="tb" x="410.5" y="544.70" font-size="10">151</text>
<circle cx="435.5" cy="540.10" r="3.55" fill="#140808"/><circle cx="435.5" cy="540.10" r="1.0" fill="#fff" fill-opacity="0.85"/>
<text class="tb" x="468.2" y="544.70" font-size="10">2,983</text>
<text class="tn" x="504.2" y="544.70" font-size="10" transform="translate(504.2 0) scale(0.820 1) translate(-504.2 0)">0,050</text>
<text class="tb" x="540.2" y="544.70" font-size="10">2,418</text>
<text class="tn" x="582.9" y="544.70" font-size="10" transform="translate(582.9 0) scale(0.820 1) translate(-582.9 0)">0,044</text>
<text class="tn" x="618.9" y="544.70" font-size="10" transform="translate(618.9 0) scale(0.827 1) translate(-618.9 0)">Kinetic spectroscopy</text>
<line x1="403.5" y1="548.53" x2="763.5" y2="548.53" stroke="#505050" stroke-width="1"/>
<text class="tb" x="410.5" y="561.98" font-size="10">153</text>
<circle cx="435.5" cy="557.38" r="3.55" fill="#d850e0"/><circle cx="435.5" cy="557.38" r="1.0" fill="#fff" fill-opacity="0.85"/>
<text class="tb" x="468.2" y="561.98" font-size="10">3,009</text>
<text class="tn" x="504.2" y="561.98" font-size="10" transform="translate(504.2 0) scale(0.820 1) translate(-504.2 0)">0,075</text>
<text class="tb" x="540.2" y="561.98" font-size="10">2,464</text>
<text class="tn" x="582.9" y="561.98" font-size="10" transform="translate(582.9 0) scale(0.820 1) translate(-582.9 0)">0,062</text>
<text class="tn" x="618.9" y="561.98" font-size="10" transform="translate(618.9 0) scale(0.827 1) translate(-618.9 0)">Kinetic spectroscopy</text>
<line x1="403.5" y1="565.81" x2="763.5" y2="565.81" stroke="#505050" stroke-width="1"/>
<text class="tb" x="410.5" y="579.25" font-size="10">160</text>
<circle cx="435.5" cy="574.65" r="3.55" fill="#38e038"/><circle cx="435.5" cy="574.65" r="1.0" fill="#fff" fill-opacity="0.85"/>
<text class="tb" x="468.2" y="579.25" font-size="10">3,0</text>
<text class="tn" x="504.2" y="579.25" font-size="10" transform="translate(504.2 0) scale(0.820 1) translate(-504.2 0)">0,090</text>
<text class="tb" x="540.2" y="579.25" font-size="10">2,45</text>
<text class="tn" x="582.9" y="579.25" font-size="10" transform="translate(582.9 0) scale(0.820 1) translate(-582.9 0)">0,070</text>
<text class="tn" x="618.9" y="579.25" font-size="10" transform="translate(618.9 0) scale(0.827 1) translate(-618.9 0)">Kinetic spectroscopy</text>
<line x1="403.5" y1="583.09" x2="763.5" y2="583.09" stroke="#505050" stroke-width="1"/>
<text class="tb" x="410.5" y="596.53" font-size="10">165</text>
<circle cx="435.5" cy="591.93" r="3.55" fill="#8cd2d2"/><circle cx="435.5" cy="591.93" r="1.0" fill="#fff" fill-opacity="0.85"/>
<text class="tb" x="468.2" y="596.53" font-size="10">3,01</text>
<text class="tn" x="504.2" y="596.53" font-size="10" transform="translate(504.2 0) scale(0.820 1) translate(-504.2 0)">0,080</text>
<text class="tb" x="540.2" y="596.53" font-size="10">2,43</text>
<text class="tn" x="582.9" y="596.53" font-size="10" transform="translate(582.9 0) scale(0.820 1) translate(-582.9 0)">0,070</text>
<text class="tn" x="618.9" y="596.53" font-size="10" transform="translate(618.9 0) scale(0.827 1) translate(-618.9 0)">spectrophotometry</text>
<line x1="403.5" y1="600.37" x2="763.5" y2="600.37" stroke="#505050" stroke-width="1"/>
<text class="tb" x="410.5" y="613.80" font-size="10">167</text>
<circle cx="435.5" cy="609.20" r="3.55" fill="#30a8b0"/><circle cx="435.5" cy="609.20" r="1.0" fill="#fff" fill-opacity="0.85"/>
<text class="tb" x="468.2" y="613.80" font-size="10">2,878</text>
<text class="tn" x="504.2" y="613.80" font-size="10" transform="translate(504.2 0) scale(0.820 1) translate(-504.2 0)">0,152</text>
<text class="tb" x="540.2" y="613.80" font-size="10">2,365</text>
<text class="tn" x="582.9" y="613.80" font-size="10" transform="translate(582.9 0) scale(0.820 1) translate(-582.9 0)">0,121</text>
<text class="tn" x="618.9" y="613.80" font-size="10" transform="translate(618.9 0) scale(0.827 1) translate(-618.9 0)">Kinetic spectroscopy</text>
<line x1="403.5" y1="617.65" x2="763.5" y2="617.65" stroke="#505050" stroke-width="1"/>
<text class="tb" x="410.5" y="631.08" font-size="10">169</text>
<circle cx="435.5" cy="626.48" r="3.55" fill="#e8dcc0"/><circle cx="435.5" cy="626.48" r="1.0" fill="#fff" fill-opacity="0.85"/>
<text class="tb" x="468.2" y="631.08" font-size="10">2,904</text>
<text class="tn" x="504.2" y="631.08" font-size="10" transform="translate(504.2 0) scale(0.820 1) translate(-504.2 0)">0,082</text>
<text class="tb" x="540.2" y="631.08" font-size="10">2,391</text>
<text class="tn" x="582.9" y="631.08" font-size="10" transform="translate(582.9 0) scale(0.820 1) translate(-582.9 0)">0,064</text>
<text class="tn" x="618.9" y="631.08" font-size="10" transform="translate(618.9 0) scale(0.827 1) translate(-618.9 0)">Kinetic spectroscopy</text>
<line x1="403.5" y1="634.93" x2="763.5" y2="634.93" stroke="#505050" stroke-width="1"/>
<text class="tb" x="410.5" y="648.36" font-size="10">177</text>
<circle cx="435.5" cy="643.76" r="3.55" fill="#8a8a8a"/><circle cx="435.5" cy="643.76" r="1.0" fill="#fff" fill-opacity="0.85"/>
<text class="tb" x="468.2" y="648.36" font-size="10">3,045</text>
<text class="tn" x="504.2" y="648.36" font-size="10" transform="translate(504.2 0) scale(0.820 1) translate(-504.2 0)">0,098</text>
<text class="tb" x="540.2" y="648.36" font-size="10">2,488</text>
<text class="tn" x="582.9" y="648.36" font-size="10" transform="translate(582.9 0) scale(0.820 1) translate(-582.9 0)">0,075</text>
<text class="tn" x="618.9" y="648.36" font-size="10" transform="translate(618.9 0) scale(0.827 1) translate(-618.9 0)">Kinetic spectroscopy</text>
<line x1="403.5" y1="652.21" x2="763.5" y2="652.21" stroke="#505050" stroke-width="1"/>
<text class="tb" x="410.5" y="665.63" font-size="10">178</text>
<circle cx="435.5" cy="661.03" r="3.55" fill="#00000c"/><circle cx="435.5" cy="661.03" r="1.0" fill="#fff" fill-opacity="0.85"/>
<text class="tb" x="468.2" y="665.63" font-size="10">2,982</text>
<text class="tn" x="504.2" y="665.63" font-size="10" transform="translate(504.2 0) scale(0.820 1) translate(-504.2 0)">0,063</text>
<text class="tb" x="540.2" y="665.63" font-size="10">2,437</text>
<text class="tn" x="582.9" y="665.63" font-size="10" transform="translate(582.9 0) scale(0.820 1) translate(-582.9 0)">0,052</text>
<text class="tn" x="618.9" y="665.63" font-size="10" transform="translate(618.9 0) scale(0.827 1) translate(-618.9 0)">Kinetic spectroscopy</text>
<line x1="403.5" y1="669.49" x2="763.5" y2="669.49" stroke="#505050" stroke-width="1"/>
<text class="tb" x="410.5" y="682.91" font-size="10">187</text>
<circle cx="435.5" cy="678.31" r="3.55" fill="#e0902a"/><circle cx="435.5" cy="678.31" r="1.0" fill="#fff" fill-opacity="0.85"/>
<text class="tb" x="468.2" y="682.91" font-size="10">2,984</text>
<text class="tn" x="504.2" y="682.91" font-size="10" transform="translate(504.2 0) scale(0.820 1) translate(-504.2 0)">0,080</text>
<text class="tb" x="540.2" y="682.91" font-size="10">2,445</text>
<text class="tn" x="582.9" y="682.91" font-size="10" transform="translate(582.9 0) scale(0.820 1) translate(-582.9 0)">0,063</text>
<text class="tn" x="618.9" y="682.91" font-size="10" transform="translate(618.9 0) scale(0.827 1) translate(-618.9 0)">Kinetic spectroscopy</text>
<line x1="403.5" y1="686.77" x2="763.5" y2="686.77" stroke="#505050" stroke-width="1"/>
<text class="tb" x="410.5" y="700.18" font-size="10">193</text>
<circle cx="435.5" cy="695.58" r="3.55" fill="#e066e0"/><circle cx="435.5" cy="695.58" r="1.0" fill="#fff" fill-opacity="0.85"/>
<text class="tb" x="468.2" y="700.18" font-size="10">3,045</text>
<text class="tn" x="504.2" y="700.18" font-size="10" transform="translate(504.2 0) scale(0.820 1) translate(-504.2 0)">0,106</text>
<text class="tb" x="540.2" y="700.18" font-size="10">2,499</text>
<text class="tn" x="582.9" y="700.18" font-size="10" transform="translate(582.9 0) scale(0.820 1) translate(-582.9 0)">0,087</text>
<text class="tn" x="618.9" y="700.18" font-size="10" transform="translate(618.9 0) scale(0.827 1) translate(-618.9 0)">Kinetic spectroscopy</text>
<line x1="403.5" y1="704.05" x2="763.5" y2="704.05" stroke="#505050" stroke-width="1"/>
<text class="tb" x="410.5" y="717.46" font-size="10">195</text>
<circle cx="435.5" cy="712.86" r="3.55" fill="#f5d5c5"/><circle cx="435.5" cy="712.86" r="1.0" fill="#fff" fill-opacity="0.85"/>
<text class="tb" x="468.2" y="717.46" font-size="10">2,961</text>
<text class="tn" x="504.2" y="717.46" font-size="10" transform="translate(504.2 0) scale(0.820 1) translate(-504.2 0)">0,086</text>
<text class="tb" x="540.2" y="717.46" font-size="10">2,426</text>
<text class="tn" x="582.9" y="717.46" font-size="10" transform="translate(582.9 0) scale(0.820 1) translate(-582.9 0)">0,071</text>
<text class="tn" x="618.9" y="717.46" font-size="10" transform="translate(618.9 0) scale(0.827 1) translate(-618.9 0)">Kinetic spectroscopy</text>
<line x1="403.5" y1="721.34" x2="763.5" y2="721.34" stroke="#505050" stroke-width="1"/>
<text class="tb" x="410.5" y="734.74" font-size="10">202</text>
<circle cx="435.5" cy="730.14" r="3.55" fill="#e06840"/><circle cx="435.5" cy="730.14" r="1.0" fill="#fff" fill-opacity="0.85"/>
<text class="tb" x="468.2" y="734.74" font-size="10">2,92</text>
<text class="tn" x="504.2" y="734.74" font-size="10" transform="translate(504.2 0) scale(0.820 1) translate(-504.2 0)">0,079</text>
<text class="tb" x="540.2" y="734.74" font-size="10">2,395</text>
<text class="tn" x="582.9" y="734.74" font-size="10" transform="translate(582.9 0) scale(0.820 1) translate(-582.9 0)">0,060</text>
<text class="tn" x="618.9" y="734.74" font-size="10" transform="translate(618.9 0) scale(0.827 1) translate(-618.9 0)">Kinetic spectroscopy</text>
<line x1="403.5" y1="738.62" x2="763.5" y2="738.62" stroke="#505050" stroke-width="1"/>
<text class="tb" x="410.5" y="752.01" font-size="10">204</text>
<circle cx="435.5" cy="747.41" r="3.55" fill="#3a7ad8"/><circle cx="435.5" cy="747.41" r="1.0" fill="#fff" fill-opacity="0.85"/>
<text class="tb" x="468.2" y="752.01" font-size="10">2,99</text>
<text class="tn" x="504.2" y="752.01" font-size="10" transform="translate(504.2 0) scale(0.820 1) translate(-504.2 0)">0,11</text>
<text class="tb" x="540.2" y="752.01" font-size="10">2,43</text>
<text class="tn" x="582.9" y="752.01" font-size="10" transform="translate(582.9 0) scale(0.820 1) translate(-582.9 0)">0,070</text>
<text class="tn" x="618.9" y="752.01" font-size="10" transform="translate(618.9 0) scale(0.827 1) translate(-618.9 0)">Kinetic spectroscopy</text>
<line x1="403.5" y1="755.90" x2="763.5" y2="755.90" stroke="#505050" stroke-width="1"/>
<text class="tb" x="410.5" y="769.29" font-size="10">208</text>
<circle cx="435.5" cy="764.69" r="3.55" fill="#e06a28"/><circle cx="435.5" cy="764.69" r="1.0" fill="#fff" fill-opacity="0.85"/>
<text class="tb" x="468.2" y="769.29" font-size="10">2,898</text>
<text class="tn" x="504.2" y="769.29" font-size="10" transform="translate(504.2 0) scale(0.820 1) translate(-504.2 0)">0,090</text>
<text class="tb" x="540.2" y="769.29" font-size="10">2,398</text>
<text class="tn" x="582.9" y="769.29" font-size="10" transform="translate(582.9 0) scale(0.820 1) translate(-582.9 0)">0,088</text>
<text class="tn" x="618.9" y="769.29" font-size="10" transform="translate(618.9 0) scale(0.827 1) translate(-618.9 0)">Kinetic spectroscopy</text>
<line x1="403.5" y1="773.68" x2="763.5" y2="773.68" stroke="#505050" stroke-width="1"/>
</svg></body></html>
